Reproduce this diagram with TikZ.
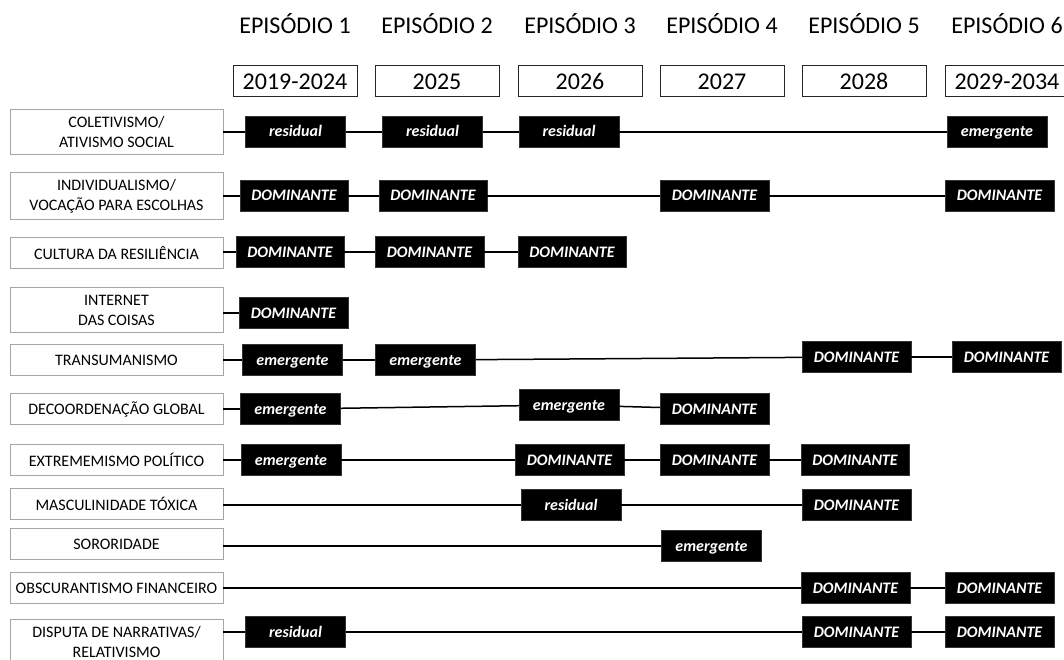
\documentclass[tikz,border=0pt]{standalone}
\usepackage{fontspec}
\setmainfont{Carlito}
\usetikzlibrary{positioning}

\begin{document}
\begin{tikzpicture}[x=1pt,y=-1pt,
	trend/.style={draw=black!35, line width=0.8pt, minimum width=213pt, minimum height=31pt, inner xsep=4pt, inner ysep=7pt, align=center, font=\fontsize{16}{20}\selectfont},
	year/.style={draw=black!85, line width=1pt, minimum width=124pt, minimum height=31pt, inner sep=2pt, font=\fontsize{24}{28}\selectfont},
	episode/.style={anchor=base, font=\fontsize{24}{28}\selectfont},
	state/.style={fill=black, draw=black!80, text=white, minimum width=100pt, minimum height=31pt, inner xsep=11.5pt, text height=13pt, text depth=3pt, font=\fontsize{16}{19}\selectfont\bfseries\itshape},
	link/.style={line width=1.5pt}]
	\useasboundingbox (0,0) rectangle (1064,660);
	\clip (0,0) rectangle (1064,660);
	
	% episodes and years
	\node[episode] (e1) at (295,34) {EPISÓDIO 1};
	\node[episode] (e2) at (437,34) {EPISÓDIO 2};
	\node[episode] (e3) at (580,34) {EPISÓDIO 3};
	\node[episode] (e4) at (722,34) {EPISÓDIO 4};
	\node[episode] (e5) at (864,34) {EPISÓDIO 5};
	\node[episode] (e6) at (1007,34) {EPISÓDIO 6};
	
	\node[year] (y1) at (295,81.5) {2019-2024};
	\node[year] (y2) at (437,81.5) {2025};
	\node[year] (y3) at (580,81.5) {2026};
	\node[year] (y4) at (722,81.5) {2027};
	\node[year] (y5) at (864,81.5) {2028};
	\node[year] (y6) at (1007,81.5) {2029-2034};
	
	% trends
	\node[trend] (r1) at (116.5,132) {COLETIVISMO/\\ATIVISMO SOCIAL};
	\node[trend] (r2) at (116.5,196) {INDIVIDUALISMO/\\VOCAÇÃO PARA ESCOLHAS};
	\node[trend] (r3) at (116.5,253) {CULTURA DA RESILIÊNCIA};
	\node[trend] (r4) at (116.5,310) {INTERNET\\DAS COISAS};
	\node[trend] (r5) at (116.5,360) {TRANSUMANISMO};
	\node[trend] (r6) at (116.5,409) {DECOORDENAÇÃO GLOBAL};
	\node[trend] (r7) at (116.5,460) {EXTREMEMISMO POLÍTICO};
	\node[trend] (r8) at (116.5,503.5) {MASCULINIDADE TÓXICA};
	\node[trend] (r9) at (116.5,544) {SORORIDADE};
	\node[trend] (r10) at (116.5,588) {OBSCURANTISMO FINANCEIRO};
	\node[trend] (r11) at (116.5,642) {DISPUTA DE NARRATIVAS/\\RELATIVISMO};
	
	% states
	\node[state] (r1a) at (295.5,132) {residual};
	\node[state] (r1b) at (432.5,132) {residual};
	\node[state] (r1c) at (569,132) {residual};
	\node[state] (r1d) at (997,132) {emergente};
	
	\node[state] (r2a) at (294,196) {DOMINANTE};
	\node[state] (r2b) at (433,196) {DOMINANTE};
	\node[state] (r2c) at (714.5,196) {DOMINANTE};
	\node[state] (r2d) at (999.5,196) {DOMINANTE};
	
	\node[state] (r3a) at (290,252) {DOMINANTE};
	\node[state] (r3b) at (429.5,252) {DOMINANTE};
	\node[state] (r3c) at (572,252) {DOMINANTE};
	
	\node[state] (r4a) at (293.5,313) {DOMINANTE};
	
	\node[state] (r5a) at (292.5,360) {emergente};
	\node[state] (r5b) at (425.5,360) {emergente};
	\node[state] (r5c) at (856.5,357) {DOMINANTE};
	\node[state] (r5d) at (1006.5,357) {DOMINANTE};
	
	\node[state] (r6a) at (290.5,409) {emergente};
	\node[state] (r6b) at (569,405) {emergente};
	\node[state] (r6c) at (714.5,409) {DOMINANTE};
	
	\node[state] (r7a) at (291,460) {emergente};
	\node[state] (r7b) at (569.5,460) {DOMINANTE};
	\node[state] (r7c) at (714.5,460) {DOMINANTE};
	\node[state] (r7d) at (855,460) {DOMINANTE};
	
	\node[state] (r8a) at (571,505) {residual};
	\node[state] (r8b) at (856.5,505) {DOMINANTE};
	
	\node[state] (r9a) at (711.5,546) {emergente};
	
	\node[state] (r10a) at (855.5,588) {DOMINANTE};
	\node[state] (r10b) at (999.5,588) {DOMINANTE};
	
	\node[state] (r11a) at (295.5,632) {residual};
	\node[state] (r11b) at (856.5,632) {DOMINANTE};
	\node[state] (r11c) at (999.5,632) {DOMINANTE};
	
	% links
	\draw[link] (r1.east |- r1a.west) -- (r1a);
	\draw[link] (r1a) -- (r1b);
	\draw[link] (r1b) -- (r1c);
	\draw[link] (r1c) -- (r1d);
	
	\draw[link] (r2.east |- r2a.west) -- (r2a);
	\draw[link] (r2a) -- (r2b);
	\draw[link] (r2b) -- (r2c);
	\draw[link] (r2c) -- (r2d);
	
	\draw[link] (r3.east |- r3a.west) -- (r3a);
	\draw[link] (r3a) -- (r3b);
	\draw[link] (r3b) -- (r3c);
	
	\draw[link] (r4.east |- r4a.west) -- (r4a);
	
	\draw[link] (r5.east |- r5a.west) -- (r5a);
	\draw[link] (r5a) -- (r5b);
	\draw[link] (r5b) -- (r5c);
	\draw[link] (r5c) -- (r5d);
	
	\draw[link] (r6.east |- r6a.west) -- (r6a);
	\draw[link] (r6a) -- (r6b);
	\draw[link] (r6b) -- (r6c);
	
	\draw[link] (r7.east |- r7a.west) -- (r7a);
	\draw[link] (r7a) -- (r7b);
	\draw[link] (r7b) -- (r7c);
	\draw[link] (r7c) -- (r7d);
	
	\draw[link] (r8.east |- r8a.west) -- (r8a);
	\draw[link] (r8a) -- (r8b);
	
	\draw[link] (r9.east |- r9a.west) -- (r9a);
	
	\draw[link] (r10.east |- r10a.west) -- (r10a);
	\draw[link] (r10a) -- (r10b);
	
	\draw[link] (r11.east |- r11a.west) -- (r11a);
	\draw[link] (r11a) -- (r11b);
	\draw[link] (r11b) -- (r11c);
\end{tikzpicture}
\end{document}
